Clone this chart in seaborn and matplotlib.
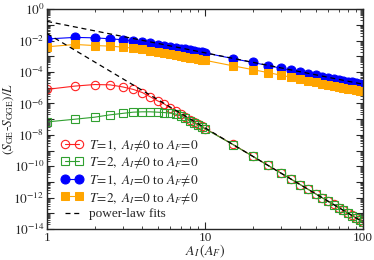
import numpy as np
import pandas as pd
import seaborn as sns
import matplotlib
matplotlib.use("Agg")
import matplotlib.pyplot as plt
from matplotlib.ticker import LogLocator, FuncFormatter, NullFormatter

# system sizes
A_vals = [1, 1.5, 2, 2.5, 3, 3.5, 4, 4.5, 5, 5.5, 6, 6.5, 7, 7.5, 8, 8.5, 9, 9.5, 10,
          15, 20, 25, 30, 35, 40, 45, 50, 55, 60, 65, 70, 75, 80, 85, 90, 95, 100]

# T=1, A_I!=0 to A_F=0
red_vals = [7.8e-6, 1.26e-5, 1.58e-5, 1.51e-5, 1.12e-5, 7.8e-6, 4.9e-6, 2.6e-6, 1.45e-6,
            9.3e-7, 5.2e-7, 3.2e-7, 2.0e-7, 1.35e-7, 9.3e-8, 6.6e-8, 4.7e-8, 3.4e-8, 2.5e-8,
            2.42e-9, 4.31e-10, 1.13e-10, 3.78e-11, 1.50e-11, 6.73e-12, 3.32e-12, 1.76e-12,
            9.95e-13, 5.90e-13, 3.66e-13, 2.34e-13, 1.55e-13, 1.05e-13, 7.31e-14, 5.19e-14,
            3.75e-14, 2.75e-14]

# T=2, A_I!=0 to A_F=0
green_vals = [6.6e-8, 9.8e-8, 1.32e-7, 1.86e-7, 2.3e-7, 2.75e-7, 2.9e-7, 2.9e-7, 2.75e-7,
              2.6e-7, 2.4e-7, 2.1e-7, 1.58e-7, 1.12e-7, 7.9e-8, 5.6e-8, 4.2e-8, 3.2e-8, 2.4e-8,
              2.40e-9, 4.28e-10, 1.12e-10, 3.76e-11, 1.49e-11, 6.70e-12, 3.30e-12, 1.75e-12,
              9.9e-13, 5.87e-13, 3.64e-13, 2.33e-13, 1.54e-13, 1.04e-13, 7.28e-14, 5.17e-14,
              3.73e-14, 2.74e-14]

# T=1, A_I=0 to A_F!=0
blue_vals = [1.26e-2, 1.58e-2, 1.48e-2, 1.29e-2, 1.12e-2, 9.5e-3, 7.9e-3, 6.6e-3, 5.5e-3,
             4.7e-3, 4.0e-3, 3.47e-3, 3.02e-3, 2.69e-3, 2.40e-3, 2.14e-3, 1.95e-3, 1.78e-3, 1.62e-3,
             7.1e-4, 4.0e-4, 2.57e-4, 1.74e-4, 1.26e-4, 9.5e-5, 7.6e-5, 6.2e-5, 5.1e-5, 4.3e-5,
             3.6e-5, 3.16e-5, 2.75e-5, 2.40e-5, 2.14e-5, 1.91e-5, 1.74e-5, 1.58e-5]

# T=2, A_I=0 to A_F!=0
orange_vals = [4.0e-3, 5.6e-3, 4.8e-3, 4.4e-3, 3.8e-3, 3.24e-3, 2.69e-3, 2.24e-3, 1.86e-3,
               1.58e-3, 1.35e-3, 1.17e-3, 1.02e-3, 9.1e-4, 8.1e-4, 7.2e-4, 6.6e-4, 6.0e-4, 5.5e-4,
               2.45e-4, 1.41e-4, 9.1e-5, 6.3e-5, 4.6e-5, 3.47e-5, 2.75e-5, 2.24e-5, 1.82e-5, 1.55e-5,
               1.32e-5, 1.12e-5, 9.8e-6, 8.7e-6, 7.8e-6, 6.9e-6, 6.3e-6, 5.8e-6]

# power-law fits (end points)
fit_x = [1, 100]
fit1_y = [0.165, 1.65e-5]
fit2_y = [0.0275, 2.75e-14]

labels = [r"$T\!=\!\mathit{1},\ A_I\!\neq\!\mathit{0}$ to $A_F\!=\!\mathit{0}$",
          r"$T\!=\!\mathit{2},\ A_I\!\neq\!\mathit{0}$ to $A_F\!=\!\mathit{0}$",
          r"$T\!=\!\mathit{1},\ A_I\!=\!\mathit{0}$ to $A_F\!\neq\!\mathit{0}$",
          r"$T\!=\!\mathit{2},\ A_I\!=\!\mathit{0}$ to $A_F\!\neq\!\mathit{0}$"]

sns.set_style("ticks")
plt.rcParams['font.family'] = ['Liberation Serif', 'DejaVu Serif']
plt.rcParams['mathtext.fontset'] = 'stix'

fig = plt.figure(figsize=(3.74, 2.60), dpi=100)
ax = fig.add_axes([0.126, 0.119, 0.845, 0.846])

sns.lineplot(x=A_vals, y=red_vals, ax=ax, color='#ff2020', marker='o', markersize=6,
             markerfacecolor='none', markeredgecolor='#ff2020', markeredgewidth=0.8,
             linewidth=0.8, label=labels[0])
sns.lineplot(x=A_vals, y=green_vals, ax=ax, color='#30a030', marker='s', markersize=5.5,
             markerfacecolor='none', markeredgecolor='#30a030', markeredgewidth=0.8,
             linewidth=0.8, label=labels[1])
sns.lineplot(x=A_vals, y=blue_vals, ax=ax, color='#0000ff', marker='o', markersize=6.5,
             markeredgecolor='#0000ff', linewidth=0.8, label=labels[2])
sns.lineplot(x=A_vals, y=orange_vals, ax=ax, color='#ffa500', marker='s', markersize=6,
             markeredgecolor='#ffa500', linewidth=0.8, label=labels[3])
ax.plot(fit_x, fit1_y, color='black', linestyle=(0, (4, 3)), linewidth=0.9,
        label='power-law fits', zorder=5)
ax.plot(fit_x, fit2_y, color='black', linestyle=(0, (4, 3)), linewidth=0.9, zorder=5)

ax.set_xscale('log')
ax.set_yscale('log')
ax.set_xlim(1, 100)
ax.set_ylim(1e-14, 1)

ax.yaxis.set_major_locator(LogLocator(base=10, numticks=20))
ax.yaxis.set_minor_locator(LogLocator(base=10, subs=np.arange(2, 10), numticks=200))
ax.yaxis.set_minor_formatter(NullFormatter())


def ylab(v, pos):
    e = int(round(np.log10(v)))
    return r"$10^{%d}$" % e if e % 2 == 0 else ""


ax.yaxis.set_major_formatter(FuncFormatter(ylab))
ax.xaxis.set_major_formatter(FuncFormatter(lambda v, p: "%d" % v))
ax.xaxis.set_minor_formatter(NullFormatter())

ax.tick_params(which='both', direction='in', top=True, right=True, labelsize=9.5, pad=2)
ax.tick_params(which='major', length=5, width=0.8)
ax.tick_params(which='minor', length=2.5, width=0.6)
for s in ax.spines.values():
    s.set_linewidth(1.0)

ax.set_xlabel(r"$A_I\,(A_F)$", fontsize=10)
ax.xaxis.set_label_coords(0.5, -0.062)
ax.set_ylabel(r"$(S_{\rm GE}$-$S_{\rm GGE})/L$", fontsize=9.5)
ax.yaxis.set_label_coords(-0.098, 0.5)

ax.legend(loc='upper left', bbox_to_anchor=(0.02, 0.45), frameon=False, fontsize=9.5,
          numpoints=2, handlelength=1.6, handletextpad=0.5, labelspacing=0.2,
          borderaxespad=0.2)

fig.savefig('out.png', dpi=100)
